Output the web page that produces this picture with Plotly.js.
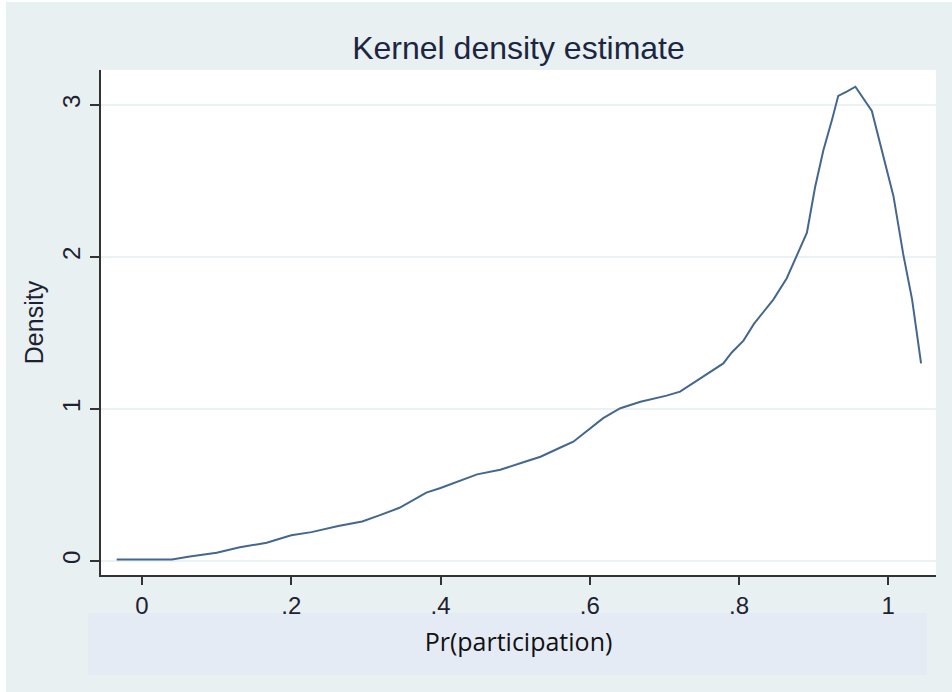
<!DOCTYPE html>
<html>
<head>
<meta charset="utf-8">
<script src="https://cdn.plot.ly/plotly-3.0.1.min.js"></script>
<style>
html, body { margin: 0; padding: 0; background: #ffffff; }
#chart { position: absolute; left: 6px; top: 2px; width: 946px; height: 690px; }
</style>
</head>
<body>
<div id="chart"></div>
<script>
// Kernel density estimate of Pr(participation)
const prParticipation = [-0.034, 0.04, 0.064, 0.1, 0.131, 0.167, 0.2, 0.227, 0.263, 0.295, 0.318, 0.345, 0.381, 0.4, 0.449, 0.48, 0.511, 0.534, 0.56, 0.578, 0.618, 0.641, 0.668, 0.703, 0.721, 0.748, 0.779, 0.79, 0.806, 0.82, 0.846, 0.864, 0.891, 0.902, 0.913, 0.925, 0.933, 0.945, 0.956, 0.978, 0.991, 1.007, 1.02, 1.032, 1.044];
const density = [0.01, 0.01, 0.03, 0.055, 0.09, 0.12, 0.17, 0.19, 0.23, 0.26, 0.30, 0.35, 0.45, 0.48, 0.57, 0.60, 0.65, 0.686, 0.745, 0.785, 0.94, 1.005, 1.048, 1.088, 1.114, 1.20, 1.30, 1.37, 1.45, 1.56, 1.72, 1.86, 2.16, 2.46, 2.70, 2.91, 3.06, 3.09, 3.12, 2.96, 2.70, 2.40, 2.02, 1.72, 1.30];
const xTickVals = [0, 0.2, 0.4, 0.6, 0.8, 1];
const xTickText = ['0', '.2', '.4', '.6', '.8', '1'];
const yTickVals = [0, 1, 2, 3];
const yTickText = ['0', '1', '2', '3'];

const trace = {
  x: prParticipation,
  y: density,
  type: 'scatter',
  mode: 'lines',
  line: { color: '#44678f', width: 2 },
  hoverinfo: 'x+y'
};

const layout = {
  width: 946,
  height: 690,
  paper_bgcolor: '#e8f0f2',
  plot_bgcolor: '#ffffff',
  margin: { l: 95, r: 16, t: 68, b: 117 },
  showlegend: false,
  title: {
    text: 'Kernel density estimate',
    font: { family: 'Liberation Sans, Arial, sans-serif', size: 32, color: '#1c2640' },
    x: 0.5, xref: 'paper', xanchor: 'center',
    y: 1, yref: 'paper', yanchor: 'bottom',
    pad: { b: 11 }
  },
  xaxis: {
    range: [-0.055, 1.064],
    tickvals: xTickVals,
    ticktext: xTickText,
    ticks: 'outside',
    ticklen: 8,
    tickwidth: 2,
    tickcolor: '#333333',
    showline: true,
    linecolor: '#333333',
    linewidth: 2,
    showgrid: false,
    zeroline: false,
    tickfont: { family: 'Liberation Sans, Arial, sans-serif', size: 24, color: '#1e2230' },
    title: {
      text: 'Pr(participation)',
      font: { family: 'Open Sans, Lato, sans-serif', size: 25, color: '#111111' },
      standoff: 16
    }
  },
  yaxis: {
    range: [-0.092, 3.23],
    tickvals: yTickVals,
    ticktext: yTickText,
    tickangle: -90,
    ticks: 'outside',
    ticklen: 9,
    tickwidth: 2,
    tickcolor: '#333333',
    showline: true,
    linecolor: '#333333',
    linewidth: 2,
    showgrid: true,
    gridcolor: '#eaf2f3',
    gridwidth: 2,
    zeroline: false,
    tickfont: { family: 'Liberation Sans, Arial, sans-serif', size: 24, color: '#1e2230' },
    title: {
      text: 'Density',
      font: { family: 'Liberation Sans, Arial, sans-serif', size: 25, color: '#1e2230' },
      standoff: 8
    }
  },
  shapes: [
    {
      type: 'rect', xref: 'paper', yref: 'paper',
      x0: -0.0156, x1: 0.989, y0: -0.198, y1: -0.0752,
      fillcolor: '#e4ebf5', line: { width: 0 }, layer: 'below'
    }
  ]
};

Plotly.newPlot('chart', [trace], layout, { displayModeBar: false, staticPlot: true });
</script>
</body>
</html>
